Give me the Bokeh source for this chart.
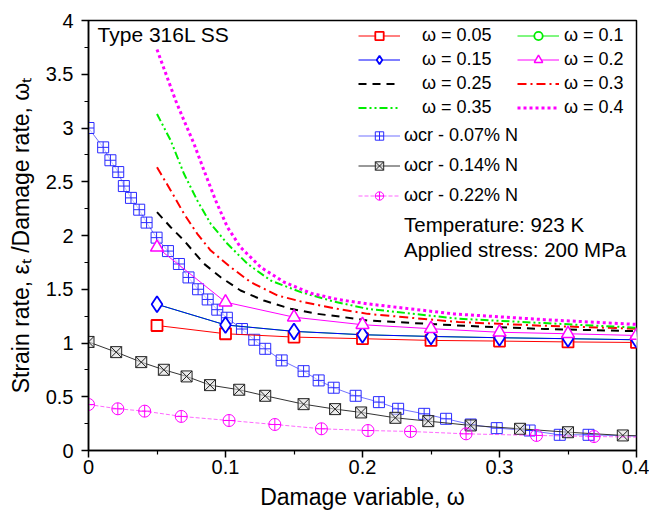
from bokeh.plotting import figure
from bokeh.models import Range1d, FixedTicker, Legend, LegendItem, Label
from bokeh.embed import file_html
from bokeh.resources import INLINE

FONT = "Liberation Sans"

# ---------------- data ----------------
omega_x = [0.05, 0.1, 0.15, 0.2, 0.25, 0.3, 0.35, 0.4]
w005_y = [1.163, 1.086, 1.055, 1.040, 1.024, 1.018, 1.010, 1.005]
w010_y = [1.360, 1.168, 1.108, 1.077, 1.061, 1.049, 1.040, 1.030]
w015_y = [1.360, 1.168, 1.108, 1.077, 1.061, 1.049, 1.040, 1.030]
w020_y = [1.890, 1.380, 1.240, 1.170, 1.133, 1.100, 1.086, 1.070]

w025_x = [0.05, 0.06, 0.0697, 0.0843, 0.0965, 0.111, 0.128, 0.1477, 0.1672, 0.1866, 0.2037, 0.274, 0.333, 0.4]
w025_y = [2.217, 2.077, 1.953, 1.737, 1.612, 1.488, 1.395, 1.318, 1.271, 1.240, 1.209, 1.16, 1.13, 1.11]
w030_x = [0.05, 0.06, 0.0697, 0.0794, 0.0892, 0.1038, 0.1184, 0.138, 0.157, 0.1818, 0.2037, 0.27, 0.333, 0.4]
w030_y = [2.635, 2.419, 2.202, 2.016, 1.86, 1.705, 1.566, 1.442, 1.38, 1.318, 1.271, 1.195, 1.16, 1.133]
w035_x = [0.05, 0.06, 0.0697, 0.0794, 0.0892, 0.1014, 0.116, 0.133, 0.155, 0.1793, 0.2037, 0.27, 0.333, 0.4]
w035_y = [3.13, 2.884, 2.574, 2.326, 2.109, 1.923, 1.737, 1.581, 1.473, 1.385, 1.318, 1.226, 1.185, 1.142]
w040_x = [0.05, 0.0636, 0.0697, 0.077, 0.0843, 0.0928, 0.1014, 0.111, 0.1257, 0.1428, 0.1623, 0.1818, 0.2037, 0.267, 0.333, 0.4]
w040_y = [3.73, 3.256, 3.07, 2.853, 2.605, 2.326, 2.077, 1.89, 1.705, 1.566, 1.463, 1.405, 1.364, 1.27, 1.217, 1.173]

cr007_x = [0, 0.0107, 0.016, 0.0217, 0.0258, 0.031, 0.037, 0.0424, 0.0497, 0.058,
           0.066, 0.073, 0.080, 0.087, 0.094, 0.101, 0.112, 0.121, 0.129, 0.141,
           0.157, 0.168, 0.179, 0.195, 0.212, 0.226, 0.245, 0.261, 0.279, 0.298,
           0.322, 0.344, 0.365]
cr007_y = [3.0, 2.82, 2.70, 2.59, 2.46, 2.35, 2.24, 2.12, 1.98, 1.855,
           1.735, 1.61, 1.50, 1.405, 1.31, 1.235, 1.13, 1.03, 0.946, 0.838,
           0.738, 0.652, 0.584, 0.509, 0.45, 0.388, 0.341, 0.295, 0.242, 0.208,
           0.186, 0.146, 0.146]
cr007_end = (0.4, 0.135)

cr014_x = [0, 0.0202, 0.0385, 0.055, 0.0716, 0.0887, 0.11, 0.129, 0.157, 0.18,
           0.199, 0.224, 0.248, 0.279, 0.315, 0.35, 0.39]
cr014_y = [1.01, 0.915, 0.822, 0.751, 0.689, 0.608, 0.565, 0.509, 0.431, 0.385,
           0.354, 0.304, 0.273, 0.233, 0.202, 0.170, 0.14]
cr014_end = (0.4, 0.137)

cr022_x = [0, 0.0214, 0.041, 0.0677, 0.1026, 0.136, 0.170, 0.204, 0.235, 0.2756, 0.327, 0.369]
cr022_y = [0.428, 0.388, 0.366, 0.317, 0.279, 0.242, 0.202, 0.186, 0.177, 0.155, 0.14, 0.13]
cr022_end = (0.4, 0.125)

x_ticks = [0, 0.1, 0.2, 0.3, 0.4]
x_tick_labels = ["0", "0.1", "0.2", "0.3", "0.4"]
y_ticks = [0, 0.5, 1, 1.5, 2, 2.5, 3, 3.5, 4]
y_tick_labels = ["0", "0.5", "1", "1.5", "2", "2.5", "3", "3.5", "4"]

# ---------------- figure ----------------
p = figure(width=649, height=514, output_backend="svg", toolbar_location=None,
           x_range=Range1d(0, 0.4), y_range=Range1d(0, 4),
           min_border_left=88, min_border_right=13, min_border_top=20,
           min_border_bottom=64)
p.grid.visible = False
p.outline_line_color = "black"
p.outline_line_width = 1.5
p.background_fill_color = "white"
p.border_fill_color = "white"

xa = p.xaxis[0]
xa.ticker = FixedTicker(ticks=x_ticks, minor_ticks=[0.05, 0.15, 0.25, 0.35])
xa.major_label_overrides = {t: l for t, l in zip(x_ticks, x_tick_labels)}
xa.axis_label = "Damage variable, ω"
ya = p.yaxis[0]
ya.ticker = FixedTicker(ticks=y_ticks, minor_ticks=[0.25, 0.75, 1.25, 1.75, 2.25, 2.75, 3.25, 3.75])
ya.major_label_overrides = {t: l for t, l in zip(y_ticks, y_tick_labels)}
ya.axis_label = "Strain rate, εₜ /Damage rate, ωₜ"
for ax in (xa, ya):
    ax.axis_line_width = 1.5
    ax.major_tick_line_width = 1.5
    ax.minor_tick_line_width = 1.2
    ax.major_tick_in = 0
    ax.major_tick_out = 7
    ax.minor_tick_in = 0
    ax.minor_tick_out = 4
    ax.major_label_text_font = FONT
    ax.major_label_text_font_size = "20px"
    ax.major_label_text_color = "black"
    ax.axis_label_text_font = FONT
    ax.axis_label_text_font_size = "23px"
    ax.axis_label_text_font_style = "normal"
    ax.axis_label_text_color = "black"
xa.major_label_standoff = 2
xa.axis_label_standoff = 7
ya.major_label_standoff = 8
ya.axis_label_standoff = 9

# ---------------- cr series ----------------
r007_l = p.line(cr007_x + [cr007_end[0]], cr007_y + [cr007_end[1]], line_color="#4d4dff", line_width=1, line_alpha=0.8)
r007_m = p.scatter(cr007_x, cr007_y, marker="square_cross", size=11, line_color="#2a2aff",
                   fill_color="white", fill_alpha=0.6, line_width=1)
r014_l = p.line(cr014_x + [cr014_end[0]], cr014_y + [cr014_end[1]], line_color="#333333", line_width=1)
r014_m = p.scatter(cr014_x, cr014_y, marker="square_x", size=11, line_color="#222222",
                   fill_color="#e0e0e0", fill_alpha=0.6, line_width=1)
r022_l = p.line(cr022_x + [cr022_end[0]], cr022_y + [cr022_end[1]], line_color="#ff00ff", line_width=1,
                line_alpha=0.6, line_dash="4 2")
r022_m = p.scatter(cr022_x, cr022_y, marker="circle_cross", size=12, line_color="#ff00ff",
                   fill_color="white", fill_alpha=0.0, line_width=1)

# ---------------- omega lines without markers ----------------
r025 = p.line(w025_x, w025_y, line_color="black", line_width=2, line_dash="8 6")
r030 = p.line(w030_x, w030_y, line_color="red", line_width=2, line_dash="9 4 2 4")
r035 = p.line(w035_x, w035_y, line_color="#00ee00", line_width=2, line_dash="8 3 2 3 2 3")
r040 = p.line(w040_x, w040_y, line_color="#ff00ff", line_width=3, line_dash="3 3")

# ---------------- omega series with markers ----------------
r005_l = p.line(omega_x, w005_y, line_color="red", line_width=1)
r010_l = p.line(omega_x, w010_y, line_color="#00ee00", line_width=1)
r015_l = p.line(omega_x, w015_y, line_color="blue", line_width=1)
r020_l = p.line(omega_x, w020_y, line_color="#ff00ff", line_width=1)
r005_m = p.scatter(omega_x, w005_y, marker="square", size=11, line_color="red",
                   fill_color="white", line_width=1.8)
r010_m = p.scatter(omega_x, w010_y, marker="circle", size=6, line_color="#00ee00",
                   fill_color="white", line_width=1.8)
r015_m = p.scatter(omega_x, w015_y, marker="diamond", size=16, line_color="blue",
                   fill_color="white", line_width=1.8)
r020_m = p.scatter(omega_x, w020_y, marker="triangle", size=13, line_color="#ff00ff",
                   fill_color="white", line_width=1.5)

# ---------------- legends ----------------
def style(leg):
    leg.label_text_font = FONT
    leg.label_text_font_size = "18px"
    leg.label_text_color = "black"
    leg.glyph_width = 42
    leg.glyph_height = 21
    leg.label_height = 21
    leg.padding = 0
    leg.margin = 0
    leg.border_line_alpha = 0
    leg.background_fill_alpha = 0

leg1 = Legend(items=[
    LegendItem(label="ω = 0.05", renderers=[r005_l, r005_m]),
    LegendItem(label="ω = 0.15", renderers=[r015_l, r015_m]),
    LegendItem(label="ω = 0.25", renderers=[r025]),
    LegendItem(label="ω = 0.35", renderers=[r035]),
], location=(270, 332))
style(leg1)
leg1.label_standoff = 22
leg1.spacing = 3

leg1b = Legend(items=[
    LegendItem(label="ω = 0.1", renderers=[r010_l, r010_m]),
    LegendItem(label="ω = 0.2", renderers=[r020_l, r020_m]),
    LegendItem(label="ω = 0.3", renderers=[r030]),
    LegendItem(label="ω = 0.4", renderers=[r040]),
], location=(429, 332))
style(leg1b)
leg1b.label_standoff = 5
leg1b.spacing = 3

leg2 = Legend(items=[
    LegendItem(label="ωcr - 0.07% N", renderers=[r007_l, r007_m]),
    LegendItem(label="ωcr - 0.14% N", renderers=[r014_l, r014_m]),
    LegendItem(label="ωcr - 0.22% N", renderers=[r022_l, r022_m]),
], location=(270, 244))
style(leg2)
leg2.label_standoff = 4
leg2.spacing = 9

p.add_layout(leg1)
p.add_layout(leg1b)
p.add_layout(leg2)

# ---------------- text ----------------
def add_text(x, y, t, size):
    p.add_layout(Label(x=x, y=y, text=t, text_font=FONT, text_font_size=size,
                       text_color="black", text_baseline="alphabetic"))

add_text(0.0066, 3.87, "Type 316L SS", "21px")
add_text(0.2303, 2.10, "Temperature: 923 K", "20.5px")
add_text(0.2303, 1.867, "Applied stress: 200 MPa", "20.5px")

open("out.html", "w").write(file_html(p, INLINE))
